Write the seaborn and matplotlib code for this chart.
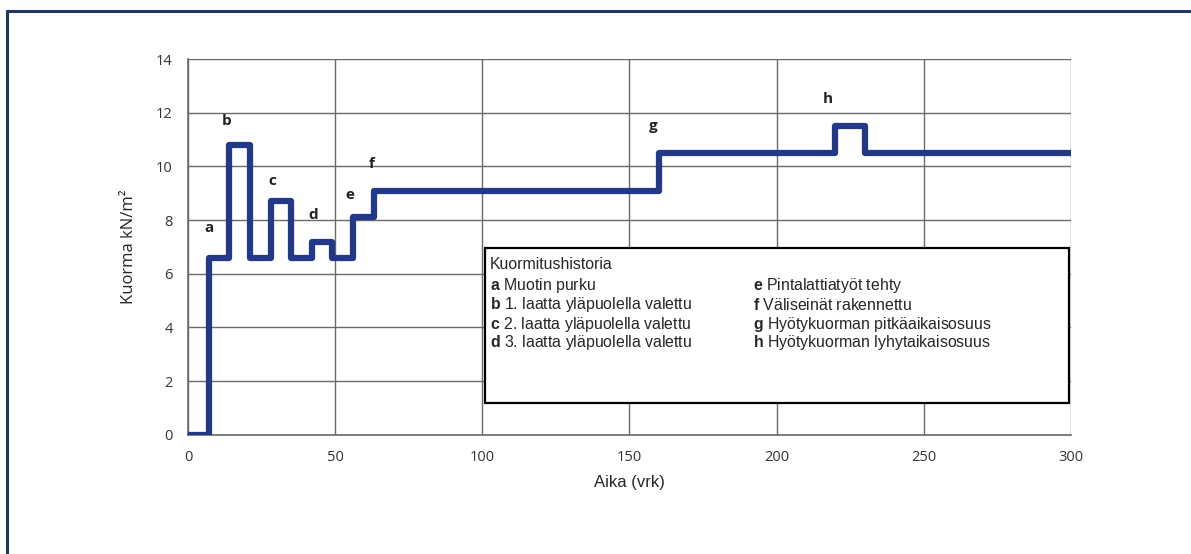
import matplotlib
matplotlib.use("Agg")
import matplotlib.pyplot as plt
import seaborn as sns
import pandas as pd
from matplotlib.lines import Line2D
from matplotlib.patches import Rectangle

# Kuormitushistoria (portaittainen kuorma)
aika = [0, 7, 14, 21, 28, 35, 42, 49, 56, 63, 160, 220, 230, 300]
kuorma = [0, 6.6, 10.8, 6.6, 8.7, 6.6, 7.2, 6.6, 8.1, 9.1, 10.5, 11.5, 10.5, 10.5]

kirjaimet = ["a", "b", "c", "d", "e", "f", "g", "h"]
kirjain_x = [7, 13, 28.5, 42.5, 55, 62.5, 158, 217.5]
kirjain_y = [7.7, 11.7, 9.45, 8.2, 8.95, 10.1, 11.5, 12.5]

selitteet = [
    "Muotin purku",
    "1. laatta yläpuolella valettu",
    "2. laatta yläpuolella valettu",
    "3. laatta yläpuolella valettu",
    "Pintalattiatyöt tehty",
    "Väliseinät rakennettu",
    "Hyötykuorman pitkäaikaisosuus",
    "Hyötykuorman lyhytaikaisosuus",
]

df = pd.DataFrame({"aika": aika, "kuorma": kuorma})

sns.set_style("white")
plt.rcParams["font.family"] = ["Liberation Sans", "DejaVu Sans"]
plt.rcParams["mathtext.fontset"] = "custom"
plt.rcParams["mathtext.rm"] = "Liberation Sans"
plt.rcParams["mathtext.bf"] = "Liberation Sans:bold"

fig = plt.figure(figsize=(11.91, 5.54), dpi=100)
ax = fig.add_axes([0.158, 0.215, 0.741, 0.6785])

sns.lineplot(data=df, x="aika", y="kuorma", ax=ax, drawstyle="steps-post",
             color="#22398a", linewidth=4.5, zorder=3)

ax.set_xlim(0, 300)
ax.set_ylim(0, 14)
ax.set_xticks(range(0, 301, 50))
ax.set_yticks(range(0, 15, 2))
ax.grid(True, color="#6a6a6a", linewidth=1.0)
for s in ["top", "right"]:
    ax.spines[s].set_visible(False)
for s in ["left", "bottom"]:
    ax.spines[s].set_color("#6a6a6a")
    ax.spines[s].set_linewidth(1.2)
ax.tick_params(axis="both", direction="out", length=5, width=1, color="#6a6a6a",
               labelsize=10.5, labelcolor="#333333", pad=6)
for lab in ax.get_xticklabels() + ax.get_yticklabels():
    lab.set_family(["Open Sans", "DejaVu Sans"])

ax.set_xlabel("Aika (vrk)", fontsize=12, labelpad=7)
ax.set_ylabel("Kuorma kN/m²", fontsize=12, labelpad=14,
              family=["Open Sans", "DejaVu Sans"])

# tapahtumien kirjaimet
for k, x, y in zip(kirjaimet, kirjain_x, kirjain_y):
    ax.text(x, y, k, fontsize=11, fontweight="bold", ha="center", va="center",
            family=["Open Sans", "DejaVu Sans"], color="#222222")

# selitelaatikko
ax.add_patch(Rectangle((101, 1.2), 198.5, 5.75, facecolor="white",
                       edgecolor="black", linewidth=1.6, zorder=4))
ax.text(102.6, 6.33, "Kuormitushistoria", fontsize=11.4, va="center", zorder=5)
rivi_y = [5.58, 4.84, 4.10, 3.43]
for i, (k, teksti) in enumerate(zip(kirjaimet, selitteet)):
    x = 102.6 if i < 4 else 192
    y = rivi_y[i % 4]
    ax.text(x, y, r"$\mathbf{" + k + "}$ " + teksti, fontsize=11.4,
            va="center", zorder=5)

# kehys
kehys = "#1f3864"
fig.add_artist(Line2D([0.006, 1.0], [0.980, 0.980], color=kehys, linewidth=2.2))
fig.add_artist(Line2D([0.006, 0.006], [0.0, 0.980], color=kehys, linewidth=2.2))

fig.savefig("out.png", dpi=100, facecolor="white")
